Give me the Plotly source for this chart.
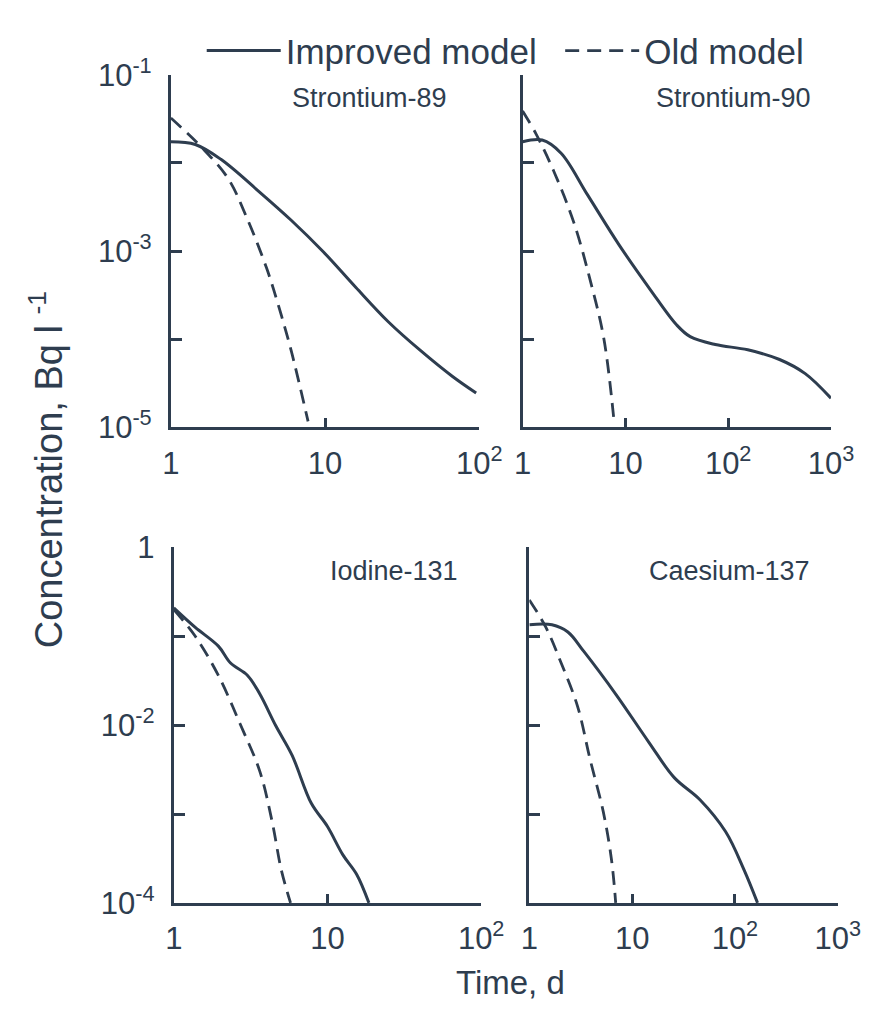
import plotly.graph_objects as go

W, H = 879, 1016
INK = "#2e3d4f"
FONT = "Liberation Sans, Arial, Helvetica, sans-serif"

# ---- data (time in days, concentration in Bq/l) ----
sr89_t_new = [1, 1.44, 2.11, 3.76, 6.03, 9.77, 15.8, 25.7, 41.7, 66.8, 95.5]
sr89_c_new = [0.0174, 0.0162, 0.0110, 0.00468, 0.00224, 0.000977, 0.000389,
              0.000158, 0.0000741, 0.0000380, 0.0000245]
sr89_t_old = [1, 1.58, 2.34, 3.09, 4.17, 5.01, 6.03, 7.76]
sr89_c_old = [0.0324, 0.0151, 0.00676, 0.00245, 0.000646, 0.000234, 0.0000741, 0.0000117]

sr90_t_new = [1, 1.55, 2.37, 4.27, 8.71, 17.8, 31.6, 42.7, 75.0, 155, 316, 562, 1000]
sr90_c_new = [0.0174, 0.0182, 0.0129, 0.00437, 0.00117, 0.000355, 0.000145,
              0.000107, 0.0000871, 0.0000759, 0.0000589, 0.0000407, 0.0000214]
sr90_t_old = [1, 1.35, 2.04, 3.16, 4.57, 6.17, 7.76]
sr90_c_old = [0.0389, 0.0214, 0.00776, 0.00209, 0.000457, 0.000102, 0.0000117]

i131_t_new = [1, 1.38, 1.95, 2.34, 3.02, 3.63, 4.62, 5.89, 7.85, 10, 12.6, 15.5, 18.6]
i131_c_new = [0.209, 0.126, 0.0776, 0.0501, 0.0363, 0.0224, 0.00977, 0.00457,
              0.00132, 0.000724, 0.000347, 0.000209, 0.0001]
i131_t_old = [1, 1.38, 1.95, 2.69, 3.63, 4.37, 5.01, 5.75]
i131_c_old = [0.2, 0.1, 0.0363, 0.0105, 0.00302, 0.000813, 0.000234, 0.0001]

cs137_t_new = [1, 1.66, 2.37, 3.39, 6.92, 14.5, 25.7, 45.7, 81.3, 123, 166]
cs137_c_new = [0.135, 0.135, 0.112, 0.0676, 0.0224, 0.00646, 0.00257, 0.00145,
               0.000631, 0.000234, 0.0001]
cs137_t_old = [1, 1.45, 2.04, 2.95, 3.89, 5.25, 6.31, 6.92]
cs137_c_old = [0.257, 0.126, 0.0501, 0.0162, 0.00417, 0.00105, 0.000302, 0.0001]

panel_names = ["Strontium-89", "Strontium-90", "Iodine-131", "Caesium-137"]
series = [
    (sr89_t_new, sr89_c_new, sr89_t_old, sr89_c_old),
    (sr90_t_new, sr90_c_new, sr90_t_old, sr90_c_old),
    (i131_t_new, i131_c_new, i131_t_old, i131_c_old),
    (cs137_t_new, cs137_c_new, cs137_t_old, cs137_c_old),
]


def sup(e):
    return "10<sup>" + e + "</sup>"


x_tickvals_2 = [1, 10, 100]
x_ticktext_2 = ["1", "10", sup("2")]
x_tickvals_3 = [1, 10, 100, 1000]
x_ticktext_3 = ["1", "10", sup("2"), sup("3")]
y_tickvals_top = [1e-5, 1e-4, 1e-3, 1e-2, 1e-1]
y_ticktext_top = [sup("-5"), "", sup("-3"), "", sup("-1")]
y_tickvals_bot = [1e-4, 1e-3, 1e-2, 1e-1, 1]
y_ticktext_bot = [sup("-4"), "", sup("-2"), "", "1"]

# ---- layout geometry (pixels) ----
boxes = [  # x0, x1, ytop, ybottom
    (168, 488, 55, 422),
    (533, 853, 55, 422),
    (171, 490, 547, 917),
    (540, 860, 547, 917),
]
xranges = [[0, 2], [0, 3], [0, 2], [0, 3]]
yranges = [[-5, -1], [-5, -1], [-4, 0], [-4, 0]]

fig = go.Figure()
for i, (tn, cn, to, co) in enumerate(series):
    k = "" if i == 0 else str(i + 1)
    fig.add_trace(go.Scatter(x=tn, y=cn, mode="lines", name="Improved model",
                             line=dict(color=INK, width=3, shape="spline"),
                             showlegend=(i == 0), legend="legend",
                             xaxis="x" + k, yaxis="y" + k))
    fig.add_trace(go.Scatter(x=to, y=co, mode="lines", name="Old model",
                             line=dict(color=INK, width=2.8, dash="14px,8px", shape="spline"),
                             showlegend=(i == 0), legend="legend2",
                             xaxis="x" + k, yaxis="y" + k))

layout = {}
for i, (x0, x1, yt, yb) in enumerate(boxes):
    k = "" if i == 0 else str(i + 1)
    three = xranges[i][1] == 3
    top = i < 2
    left = i % 2 == 0
    yvals = y_tickvals_top if top else y_tickvals_bot
    ytext = y_ticktext_top if top else y_ticktext_bot
    if not left:
        ytext = [""] * len(yvals)
    layout["xaxis" + k] = dict(
        type="log", range=xranges[i], domain=[x0 / W, x1 / W],
        anchor="y" + k, showline=True, linecolor=INK, linewidth=3,
        ticks="inside", ticklen=9, tickwidth=3, tickcolor=INK,
        tickvals=x_tickvals_3 if three else x_tickvals_2,
        ticktext=x_ticktext_3 if three else x_ticktext_2,
        ticklabelstandoff=6,
        showgrid=False, zeroline=False,
        tickfont=dict(family=FONT, size=31, color=INK),
    )
    layout["yaxis" + k] = dict(
        type="log", range=yranges[i], domain=[1 - yb / H, 1 - yt / H],
        anchor="x" + k, showline=True, linecolor=INK, linewidth=3,
        ticks="inside", ticklen=11, tickwidth=3, tickcolor=INK,
        tickvals=yvals, ticktext=ytext,
        ticklabelstandoff=10,
        showgrid=False, zeroline=False,
        tickfont=dict(family=FONT, size=31, color=INK),
    )

title_pos = [(374, 79), (752, 79), (400, 571), (748, 571)]
annotations = []
for name, (px, py) in zip(panel_names, title_pos):
    annotations.append(dict(text=name, x=px / W, y=1 - py / H, xref="paper", yref="paper",
                            xanchor="center", yanchor="middle",
                            showarrow=False, font=dict(family=FONT, size=27, color=INK)))
annotations.append(dict(text="Concentration, Bq l <sup>-1</sup>", x=38 / W, y=1 - 466 / H,
                        xref="paper", yref="paper", textangle=-90, showarrow=False,
                        xanchor="center", yanchor="middle",
                        font=dict(family=FONT, size=38, color=INK)))
annotations.append(dict(text="Time, d", x=520 / W, y=1 - 1000 / H, xref="paper", yref="paper",
                        xanchor="center", yanchor="middle",
                        showarrow=False, font=dict(family=FONT, size=33, color=INK)))

legend_common = dict(orientation="h", yanchor="middle", y=1 - 30 / H, xanchor="left",
                     font=dict(family=FONT, size=35, color=INK),
                     bgcolor="rgba(0,0,0,0)", itemwidth=74)
fig.update_layout(
    width=W, height=H, margin=dict(l=0, r=0, t=0, b=0),
    paper_bgcolor="white", plot_bgcolor="white",
    showlegend=True,
    legend=dict(x=200 / W, **legend_common),
    legend2=dict(x=572 / W, **legend_common),
    annotations=annotations,
    **layout,
)

fig.write_html("out.html")
